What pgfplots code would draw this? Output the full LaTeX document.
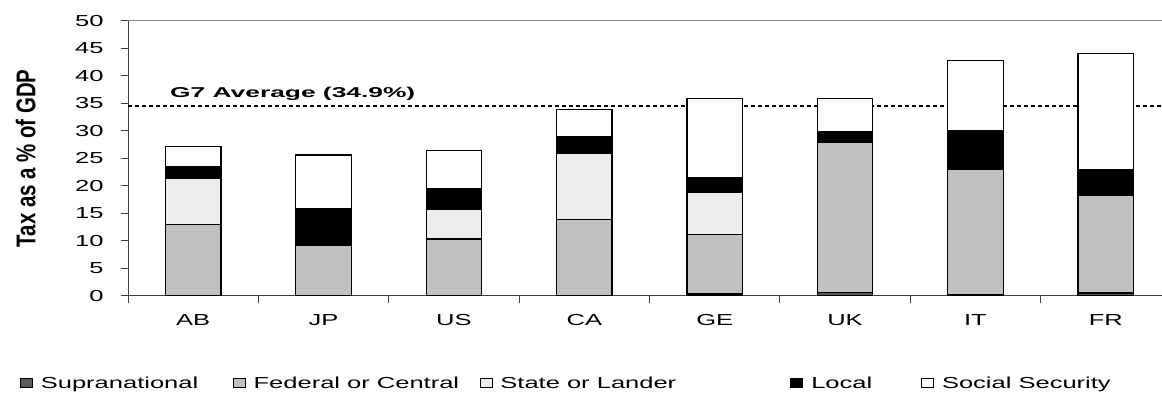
\documentclass[border=0pt]{standalone}
\usepackage{pgfplots}
\pgfplotsset{compat=1.18}
\usepackage{pgfplotstable}
\usepackage{fontspec}
\setmainfont{Liberation Sans}[FakeStretch=1.6]
\newfontfamily\plainsans{Liberation Sans}
\newfontfamily\gfont{Liberation Sans}[FakeStretch=1.85]
\definecolor{supra}{HTML}{5A5A5A}
\definecolor{fed}{HTML}{C0C0C0}
\definecolor{state}{HTML}{EDEDED}

\pgfplotstableread{
cat supra fed state local ss
0 0.0 13.0 8.3 2.2 3.7
1 0.0 9.2 0.0 6.7 9.7
2 0.0 10.3 5.4 3.8 6.9
3 0.0 13.8 12.0 3.1 5.0
4 0.3 10.9 7.5 2.8 14.4
5 0.6 27.2 0.0 2.0 6.1
6 0.2 22.8 0.0 7.1 12.6
7 0.5 17.7 0.0 4.8 21.1
}\taxdata

\begin{document}
\begin{tikzpicture}
\useasboundingbox (0bp,0bp) rectangle (1162bp,394bp);
\begin{axis}[
  at={(128bp,98.3bp)}, anchor=south west,
  scale only axis, width=1043bp, height=275bp,
  xmin=-0.5, xmax=7.5, ymin=0, ymax=50,
  ybar stacked, bar width=0.426,
  axis x line*=bottom, axis y line*=left,
  axis line style={black!75, line width=0.8bp},
  ytick={0,5,...,50},
  xtick={-0.5,0.5,...,7.5},
  xticklabels={AB,JP,US,CA,GE,UK,IT,FR},
  x tick label as interval,
  tick align=outside, major tick length=7bp,
  tick style={black!75, line width=0.8bp},
  /pgf/number format/assume math mode=true,
  ticklabel style={font=\fontsize{16}{18}\selectfont},
  yticklabel style={xshift=-14bp},
  xticklabel style={yshift=-8bp},
  ylabel={\scalebox{1.28}[1.7]{\plainsans\bfseries\fontsize{16}{16}\selectfont Tax as a \% of GDP}},
  ylabel style={at={(axis description cs:-0.098,0.5)}, anchor=center},
  every axis plot/.append style={draw=black, line width=1.2bp},
  every axis plot post/.append style={legend image code/.code={\draw[#1, line width=0.8bp] (0bp,-4.5bp) rectangle (12bp,4.5bp);}},
  legend style={at={(axis description cs:-0.1035,-0.3175)}, anchor=west, draw=none, fill=none,
    inner sep=0pt, outer sep=0pt, nodes={inner sep=0pt},
    font=\fontsize{16}{18}\selectfont,
    /tikz/every odd column/.append style={column sep=8bp},
    /tikz/every even column/.append style={column sep=0bp}},
  legend columns=5, legend cell align=left,
]
\addplot[fill=supra] table[x=cat,y=supra]{\taxdata};
\addplot[fill=fed] table[x=cat,y=fed]{\taxdata};
\addplot[fill=state] table[x=cat,y=state]{\taxdata};
\addplot[fill=black] table[x=cat,y=local]{\taxdata};
\addplot[fill=white] table[x=cat,y=ss]{\taxdata};
\legend{\makebox[192bp][l]{Supranational}, \makebox[226bp][l]{Federal or Central}, \makebox[290bp][l]{State or Lander}, \makebox[110bp][l]{Local}, Social Security}
\draw[black!45, line width=0.8bp] (rel axis cs:0,1) -- (rel axis cs:1,1);
\draw[black, line width=2bp, dash pattern=on 4bp off 3bp] (axis cs:-0.5,34.5) -- (axis cs:7.5,34.5);
\node[anchor=base west, inner sep=0pt, font=\gfont\bfseries\fontsize{14.3}{16}\selectfont] at (axis cs:-0.178,36.07) {G7 Average (34.9\%)};
\end{axis}
\end{tikzpicture}
\end{document}
